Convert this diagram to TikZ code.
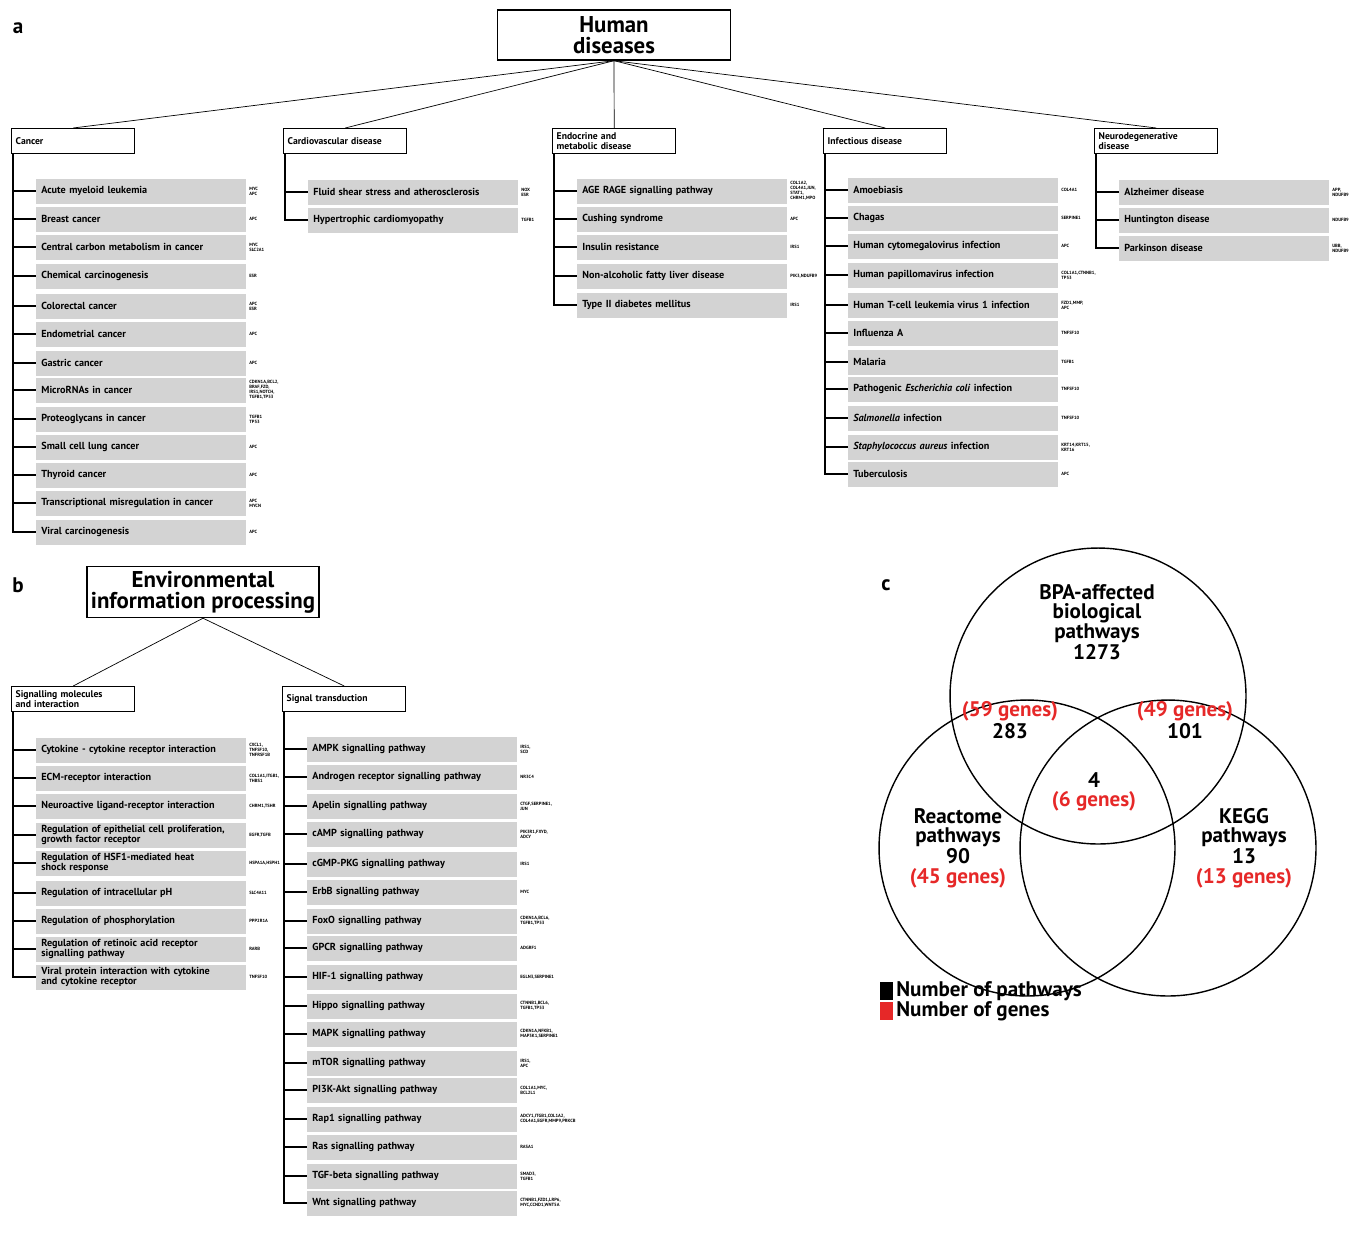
\documentclass[tikz,border=0pt]{standalone}
\usepackage{fontspec}
\setmainfont{PT Sans}
\usetikzlibrary{positioning}
\definecolor{itemgray}{RGB}{211,211,211}
\definecolor{genered}{RGB}{230,40,40}
\tikzset{
  title/.style={draw, thick, font=\fontsize{13}{12}\selectfont\bfseries, align=center, inner sep=0pt},
  cat/.style={draw, thick, anchor=north west, minimum width=2.46cm, minimum height=0.5cm,
    font=\fontsize{5.5}{5.5}\selectfont\bfseries, align=left, text width=2.3cm, inner sep=1.5pt},
  item/.style={fill=itemgray, anchor=west, minimum height=0.5cm, text width=4.0cm,
    inner xsep=0.1cm, inner ysep=0pt, font=\fontsize{5.8}{5.5}\selectfont\bfseries, align=left},
  gene/.style={anchor=west, font=\fontsize{2.6}{2.8}\selectfont\bfseries, align=left, inner sep=0pt},
  tick/.style={thick},
  venn/.style={thick},
  vtxt/.style={font=\fontsize{12}{11}\selectfont\bfseries, align=center}
}
% list of items below a category box
\newcommand{\catlist}[3]{%
  \foreach \y/\lab/\gen [count=\i] in {#3}{
    \node[item] (#1\i) at (#2+25,\y) {\lab};
    \node[gene] (#1g\i) at (#2+238,\y) {\gen};
    \draw[tick] ([xshift=0.04cm]#1.south west) |- (#1\i.west);
  }}
\begin{document}
\begin{tikzpicture}[x=0.02cm,y=-0.02cm]
  \useasboundingbox (0,0) rectangle (1361,1234);
  % panel a
  \node[font=\fontsize{12}{12}\selectfont\bfseries] (pa) at (18,28) {a};
  \node[title, minimum width=4.66cm, minimum height=1cm] (hd) at (614,35) {Human\\diseases};
  \node[cat] (can) at (11,128) {Cancer};
  \node[cat] (car) at (283,128) {Cardiovascular disease};
  \node[cat] (end) at (552,128) {Endocrine and\\metabolic disease};
  \node[cat] (inf) at (823,128) {Infectious disease};
  \node[cat] (neu) at (1094,128) {Neurodegenerative\\disease};
  \foreach \c in {can,car,end,inf,neu}
    \draw (hd.south) -- (\c.north);
  \catlist{can}{11}{191/Acute myeloid leukemia/{MYC\\APC}, 219/Breast cancer/APC,
    247/Central carbon metabolism in cancer/{MYC\\SLC2A1}, 276/Chemical carcinogenesis/ESR,
    306/Colorectal cancer/{APC\\ESR}, 334/Endometrial cancer/APC, 363/Gastric cancer/APC,
    390/MicroRNAs in cancer/{CDKN1A,BCL2,\\BRAF,FZD,\\IRS1,NOTCH,\\TGFB1,TP53}, 419/Proteoglycans in cancer/{TGFB1\\TP53},
    447/Small cell lung cancer/APC, 475/Thyroid cancer/APC,
    503/Transcriptional misregulation in cancer/{APC\\MYCN}, 532/Viral carcinogenesis/APC}
  \catlist{car}{283}{192/Fluid shear stress and atherosclerosis/{NOX\\ESR}, 220/Hypertrophic cardiomyopathy/TGFB1}
  \catlist{end}{552}{191/AGE RAGE signalling pathway/{COL1A2,\\COL4A1,JUN,\\STAT1,\\CHRM1,MPO}, 219/Cushing syndrome/APC,
    247/Insulin resistance/IRS1, 276/Non-alcoholic fatty liver disease/{PIK3,NDUFB9}, 305/Type II diabetes mellitus/IRS1}
  \catlist{inf}{823}{190/Amoebiasis/COL4A1, 218/Chagas/SERPINE1, 246/Human cytomegalovirus infection/APC,
    275/Human papillomavirus infection/{COL1A1,CTNNB1,\\TP53}, 305/Human T-cell leukemia virus 1 infection/{FZD1,MMP,\\APC},
    333/Influenza A/TNFSF10, 362/Malaria/TGFB1, 389/Pathogenic \textit{Escherichia coli} infection/TNFSF10,
    418/\textit{Salmonella} infection/TNFSF10, 447/\textit{Staphylococcus aureus} infection/{KRT14,KRT15,\\KRT16}, 474/Tuberculosis/APC}
  \catlist{neu}{1094}{192/Alzheimer disease/{APP,\\NDUFB9}, 220/Huntington disease/NDUFB9, 248/Parkinson disease/{UBB,\\NDUFB9}}
  % panel b
  \node[font=\fontsize{12}{12}\selectfont\bfseries] (pb) at (18,585) {b};
  \node[title, minimum width=4.64cm, minimum height=1.02cm] (eip) at (203,592) {Environmental\\information processing};
  \node[cat] (sig) at (11,686) {Signalling molecules\\and interaction};
  \node[cat] (trn) at (282,686) {Signal transduction};
  \draw (eip.south) -- (sig.north);
  \draw (eip.south) -- (trn.north);
  \catlist{sig}{11}{750/Cytokine - cytokine receptor interaction/{CXCL1,\\TNFSF10,\\TNFRSF1B}, 778/ECM-receptor interaction/{COL1A1,ITGB1,\\THBS1},
    806/Neuroactive ligand-receptor interaction/{CHRM1,TSHR}, 835/{Regulation of epithelial cell proliferation,\\growth factor receptor}/{EGFR,TGFB},
    863/{Regulation of HSF1-mediated heat\\shock response}/{HSPA1A,HSPH1}, 893/Regulation of intracellular pH/SLC4A11,
    921/Regulation of phosphorylation/PPP2R1A, 949/{Regulation of retinoic acid receptor\\signalling pathway}/RARB,
    977/{Viral protein interaction with cytokine\\and cytokine receptor}/TNFSF10}
  \catlist{trn}{282}{749/AMPK signalling pathway/{IRS1,\\SCD}, 777/Androgen receptor signalling pathway/{NR3C4},
    806/Apelin signalling pathway/{CTGF,SERPINE1,\\JUN}, 834/cAMP signalling pathway/{PIK3R1,FXYD,\\ADCY}, 864/cGMP-PKG signalling pathway/IRS1,
    892/ErbB signalling pathway/MYC, 921/FoxO signalling pathway/{CDKN1A,BCL6,\\TGFB1,TP53}, 948/GPCR signalling pathway/ADGRF1,
    977/HIF-1 signalling pathway/{EGLN3,SERPINE1}, 1006/Hippo signalling pathway/{CTNNB1,BCL6,\\TGFB1,TP53}, 1034/MAPK signalling pathway/{CDKN1A,NFKB1,\\MAP3K1,SERPINE1},
    1063/mTOR signalling pathway/{IRS1,\\APC}, 1090/PI3K-Akt signalling pathway/{COL1A1,MYC,\\BCL2L1}, 1119/Rap1 signalling pathway/{ADCY1,ITGB1,COL1A2,\\COL4A1,EGFR,MMP9,PRKCB}, 1147/Ras signalling pathway/RASA1,
    1176/TGF-beta signalling pathway/{SMAD3,\\TGFB1}, 1203/Wnt signalling pathway/{CTNNB1,FZD1,LRP6,\\MYC,CCND1,WNT5A}}
  % panel c
  \node[font=\fontsize{12}{12}\selectfont\bfseries] (pc) at (886,585) {c};
  \node[venn, circle, draw, minimum size=5.92cm] (bpa) at (1098,696) {};
  \node[venn, circle, draw, minimum size=5.92cm] (rea) at (1027,848) {};
  \node[venn, circle, draw, minimum size=5.92cm] (keg) at (1168,848) {};
  \node[vtxt] (t1) at (1097,622) {BPA-affected\\biological\\pathways\\1273};
  \node[vtxt] (t2) at (1010,720) {\textcolor{genered}{(59 genes)}\\283};
  \node[vtxt] (t3) at (1185,720) {\textcolor{genered}{(49 genes)}\\101};
  \node[vtxt] (t4) at (1094,792) {4\\\textcolor{genered}{(6 genes)}};
  \node[vtxt] (t5) at (958,848) {Reactome\\pathways\\90\\\textcolor{genered}{(45 genes)}};
  \node[vtxt] (t6) at (1244,848) {KEGG\\pathways\\13\\\textcolor{genered}{(13 genes)}};
  % legend
  \fill (880,982) rectangle (893,1000);
  \fill[genered] (880,1002) rectangle (893,1020);
  \node[vtxt, anchor=west, inner sep=0pt] (l1) at (896,991) {Number of pathways};
  \node[vtxt, anchor=west, inner sep=0pt] (l2) at (896,1011) {Number of genes};
\end{tikzpicture}
\end{document}
